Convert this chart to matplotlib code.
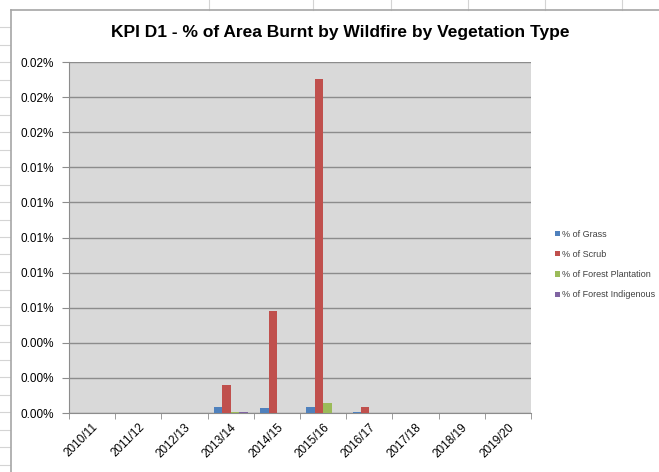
import matplotlib
matplotlib.use("Agg")
import matplotlib.pyplot as plt
import numpy as np
from matplotlib.lines import Line2D
from matplotlib.ticker import FuncFormatter, MultipleLocator

# values in percent
years = ["2010/11", "2011/12", "2012/13", "2013/14", "2014/15",
         "2015/16", "2016/17", "2017/18", "2018/19", "2019/20"]
grass = [0, 0, 0, 0.00034, 0.00030, 0.00034, 0.00006, 0, 0, 0]
scrub = [0, 0, 0, 0.00160, 0.00580, 0.01903, 0.00034, 0, 0, 0]
plantation = [0, 0, 0, 0.00006, 0, 0.00057, 0, 0, 0, 0]
indigenous = [0, 0, 0, 0.00005, 0, 0, 0, 0, 0, 0]

series = [
    ("% of Grass", grass, "#4F81BD"),
    ("% of Scrub", scrub, "#C0504D"),
    ("% of Forest Plantation", plantation, "#9BBB59"),
    ("% of Forest Indigenous", indigenous, "#8064A2"),
]

plt.rcParams["font.family"] = ["Liberation Sans", "DejaVu Sans"]

fig = plt.figure(figsize=(6.59, 4.72), dpi=100)
fig.patch.set_facecolor("white")

# spreadsheet cell lines around the chart object
W, H = 659, 472
def px(x, y):
    return x / W, 1 - y / H
grid_col = "#D4D4D4"
for x in [209, 313, 391, 468, 545, 622]:
    (x0, y0), (x1, y1) = px(x, 0), px(x, 10)
    fig.add_artist(Line2D([x0, x1], [y0, y1], color=grid_col, lw=0.8))
for y in np.arange(27, 472, 17.5):
    (x0, y0), (x1, y1) = px(0, y), px(10, y)
    fig.add_artist(Line2D([x0, x1], [y0, y1], color=grid_col, lw=0.8))
(x0, y0), (x1, y1) = px(11, 10), px(659, 10)
fig.add_artist(Line2D([x0, x1], [y0, y1], color="#A6A6A6", lw=1.2))
(x0, y0), (x1, y1) = px(11, 10), px(11, 472)
fig.add_artist(Line2D([x0, x1], [y0, y1], color="#A6A6A6", lw=1.2))

ax = fig.add_axes([69 / W, 1 - 413 / H, (531 - 69) / W, (413 - 62) / H])
ax.set_facecolor("#D9D9D9")

n = len(series)
bar_w = 1 / (n + 1.5)
x = np.arange(len(years))
for i, (label, vals, color) in enumerate(series):
    offs = (i - (n - 1) / 2) * bar_w
    ax.bar(x + offs, vals, width=bar_w, color=color, label=label, zorder=3)

ax.set_xlim(-0.5, len(years) - 0.5)
ax.set_ylim(0, 0.02)
ax.yaxis.set_major_locator(MultipleLocator(0.002))
ax.yaxis.set_major_formatter(FuncFormatter(lambda v, p: f"{v:.2f}%"))
ax.grid(axis="y", color="#8C8C8C", lw=1.0, zorder=1)

ax.set_xticks(x)
ax.set_xticklabels(years, rotation=45, ha="right", rotation_mode="anchor", fontsize=8.5)
ax.set_xticks(np.arange(-0.5, len(years)), minor=True)
ax.tick_params(axis="x", which="major", length=0, pad=6)
ax.tick_params(axis="x", which="minor", length=4, color="#8C8C8C")
ax.tick_params(axis="y", length=5, color="#8C8C8C", labelsize=8.5, pad=6)

for side in ["top", "right"]:
    ax.spines[side].set_visible(False)
for side in ["left", "bottom"]:
    ax.spines[side].set_color("#8C8C8C")

fig.text(340 / W, 1 - 33 / H, "KPI D1 - % of Area Burnt by Wildfire by Vegetation Type",
         ha="center", va="center", fontsize=12.5, fontweight="bold")

leg = fig.legend(loc="upper left", bbox_to_anchor=(551 / W, 1 - 226 / H), frameon=False,
                 fontsize=6.5, handlelength=0.55, handleheight=0.55, handletextpad=0.3,
                 labelspacing=1.25, borderaxespad=0)
for t in leg.get_texts():
    t.set_color("#404040")

fig.savefig("out.png", dpi=100)
